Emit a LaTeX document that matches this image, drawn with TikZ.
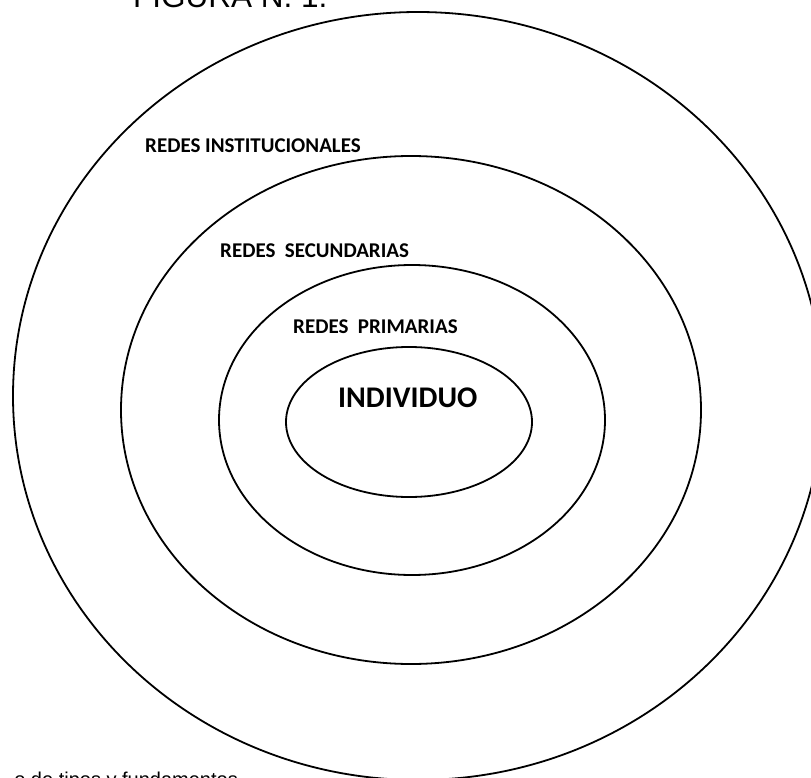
\documentclass[tikz,border=0pt]{standalone}
\usepackage{fontspec}
\newfontfamily\labfont{Carlito}
\newfontfamily\arialfont{Liberation Sans}
\tikzset{
  ring/.style={draw=black, line width=1.8pt},
  lab/.style={inner sep=0pt, anchor=base west, font=\labfont\bfseries\fontsize{21}{24}\selectfont},
  plain/.style={inner sep=0pt, font=\arialfont\fontsize{20}{24}\selectfont}
}
\begin{document}
\begin{tikzpicture}[x=1pt,y=-1pt]
\useasboundingbox (0,0) rectangle (811,778);
\draw[ring] (418,396) ellipse [x radius=405, y radius=384];
\draw[ring] (411,410) ellipse [x radius=290, y radius=254];
\draw[ring] (412,420) ellipse [x radius=193, y radius=155];
\draw[ring] (409,422) ellipse [x radius=123, y radius=75];
\node[plain, anchor=base west, font=\arialfont\fontsize{31.5}{36}\selectfont] (title) at (133,8) {FIGURA N. 1.};
\node[lab] (inst) at (145,153) {REDES INSTITUCIONALES};
\node[lab] (sec) at (220,258) {REDES\ \ SECUNDARIAS};
\node[lab] (prim) at (293,333) {REDES\ \ PRIMARIAS};
\node[lab, font=\labfont\bfseries\fontsize{30}{34}\selectfont] (ind) at (338,407) {INDIVIDUO};
\node[plain, anchor=base east] (src) at (238,786) {o de tipos y fundamentos};
\end{tikzpicture}
\end{document}
